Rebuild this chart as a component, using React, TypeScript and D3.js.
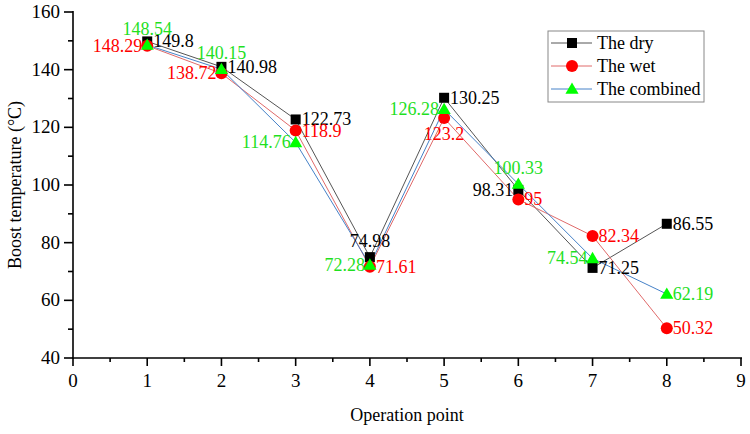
import React from "react";
import * as d3 from "d3";

const points: number[] = [1, 2, 3, 4, 5, 6, 7, 8];
const dryTemp: number[] = [149.8, 140.98, 122.73, 74.98, 130.25, 98.31, 71.25, 86.55];
const wetTemp: number[] = [148.29, 138.72, 118.9, 71.61, 123.2, 95, 82.34, 50.32];
const combinedTemp: number[] = [148.54, 140.15, 114.76, 72.28, 126.28, 100.33, 74.54, 62.19];

const xTicks: number[] = [0, 1, 2, 3, 4, 5, 6, 7, 8, 9];
const yTicks: number[] = [40, 60, 80, 100, 120, 140, 160];

// where each value label sits relative to its marker
const dryLabelSide: string[] = ["r", "r", "r", "t", "r", "l", "r", "r"];
const wetLabelSide: string[] = ["l", "l", "r", "r", "b", "r", "r", "r"];
const combinedLabelSide: string[] = ["t", "t", "l", "l", "l", "t", "l", "r"];

const FONT = "Liberation Serif, Times New Roman, DejaVu Serif, serif";
const GREEN = "#00ff00";
const GREEN_TEXT = "#1fe01f";

interface Series {
  name: string;
  values: number[];
  sides: string[];
  lineColor: string;
  markerColor: string;
  textColor: string;
  shape: "square" | "circle" | "triangle";
}

const series: Series[] = [
  {name: "The dry", values: dryTemp, sides: dryLabelSide, lineColor: "#555555", markerColor: "#000000", textColor: "#000000", shape: "square"},
  {name: "The wet", values: wetTemp, sides: wetLabelSide, lineColor: "#e06a6a", markerColor: "#ff0000", textColor: "#ff0000", shape: "circle"},
  {name: "The combined", values: combinedTemp, sides: combinedLabelSide, lineColor: "#4682c8", markerColor: GREEN, textColor: GREEN_TEXT, shape: "triangle"},
];

function Marker(props: {shape: string; x: number; y: number; color: string}): React.ReactElement {
  const {shape, x, y, color} = props;
  if (shape === "square") return <rect x={x - 5} y={y - 5} width={10} height={10} fill={color} />;
  if (shape === "circle") return <circle cx={x} cy={y} r={6} fill={color} />;
  const sym = d3.symbol().type(d3.symbolTriangle).size(75)();
  return <path d={sym || ""} transform={`translate(${x},${y + 1})`} fill={color} />;
}

export default function App(): React.ReactElement {
  const width = 750;
  const height = 434;
  const left = 73, right = 741, top = 12, bottom = 358;

  const x = d3.scaleLinear().domain([0, 9]).range([left, right]);
  const y = d3.scaleLinear().domain([40, 160]).range([bottom, top]);

  const line = d3.line<number>()
    .x((_, i) => x(points[i]))
    .y((d) => y(d));

  const xMinor = d3.range(0.5, 9, 1);
  const yMinor = d3.range(50, 160, 20);

  const labelPos = (side: string, cx: number, cy: number) => {
    if (side === "r") return {x: cx + 6, y: cy + 6, anchor: "start"};
    if (side === "l") return {x: cx - 5, y: cy + 6, anchor: "end"};
    if (side === "t") return {x: cx, y: cy - 10, anchor: "middle"};
    return {x: cx, y: cy + 22, anchor: "middle"};
  };

  const legendX = 548, legendY = 31;

  return (
    <svg width={width} height={height} style={{position: "absolute", left: 0, top: 0, background: "#fff", fontFamily: FONT}}>
      {/* connecting lines */}
      {series.map((s) => (
        <path key={s.name + "-line"} d={line(s.values) || ""} fill="none" stroke={s.lineColor} strokeWidth={1} />
      ))}

      {/* markers */}
      {series.map((s) => (
        <g key={s.name + "-marks"}>
          {s.values.map((v, i) => (
            <Marker key={i} shape={s.shape} x={x(points[i])} y={y(v)} color={s.markerColor} />
          ))}
        </g>
      ))}

      {/* value labels */}
      {series.map((s) => (
        <g key={s.name + "-labels"} fontSize={18} fill={s.textColor}>
          {s.values.map((v, i) => {
            const p = labelPos(s.sides[i], x(points[i]), y(v));
            return <text key={i} x={p.x} y={p.y} textAnchor={p.anchor}>{v}</text>;
          })}
        </g>
      ))}

      {/* axes */}
      <g stroke="#000" strokeWidth={1.6}>
        <line x1={left} y1={top - 1} x2={left} y2={bottom + 1} />
        <line x1={left - 1} y1={bottom} x2={right + 1} y2={bottom} />
        {yTicks.map((t) => <line key={"yt" + t} x1={left - 9} x2={left} y1={y(t)} y2={y(t)} />)}
        {yMinor.map((t) => <line key={"ym" + t} x1={left - 5} x2={left} y1={y(t)} y2={y(t)} />)}
        {xTicks.map((t) => <line key={"xt" + t} x1={x(t)} x2={x(t)} y1={bottom} y2={bottom + 8} />)}
        {xMinor.map((t) => <line key={"xm" + t} x1={x(t)} x2={x(t)} y1={bottom} y2={bottom + 4} />)}
      </g>
      <g fontSize={19} fill="#000">
        {yTicks.map((t) => <text key={"yl" + t} x={left - 13} y={y(t) + 6} textAnchor="end">{t}</text>)}
        {xTicks.map((t) => <text key={"xl" + t} x={x(t)} y={387} textAnchor="middle">{t}</text>)}
      </g>
      <text x={(left + right) / 2} y={421} textAnchor="middle" fontSize={18}>Operation point</text>
      <text transform={`translate(21,${(top + bottom) / 2}) rotate(-90)`} textAnchor="middle" fontSize={18}>Boost temperature (°C)</text>

      {/* legend */}
      <rect x={legendX} y={legendY} width={156} height={71} fill="#fff" stroke="#888" strokeWidth={1} />
      {series.map((s, i) => {
        const ly = legendY + 12 + i * 23;
        return (
          <g key={s.name + "-legend"}>
            <line x1={legendX + 3} x2={legendX + 44} y1={ly} y2={ly} stroke={s.lineColor} strokeWidth={1} />
            <Marker shape={s.shape} x={legendX + 24} y={ly} color={s.markerColor} />
            <text x={legendX + 49} y={ly + 6} fontSize={18} fill="#000">{s.name}</text>
          </g>
        );
      })}
    </svg>
  );
}
